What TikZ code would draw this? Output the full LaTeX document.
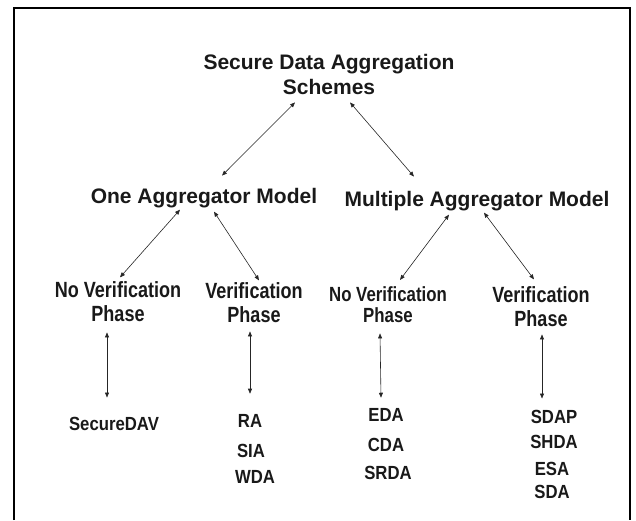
\documentclass[tikz,border=0pt]{standalone}
\usepackage{fontspec}
\setmainfont{Liberation Sans}
\newfontfamily\narrowsans[FakeStretch=0.82]{Liberation Sans}
\newfontfamily\leafsans[FakeStretch=0.88]{Liberation Sans}
\usetikzlibrary{arrows.meta}
\begin{document}
\begin{tikzpicture}[x=1pt, y=-1pt, line join=round, line cap=round, >={Triangle[length=5pt,width=4pt]},
	every node/.style={inner sep=0pt, anchor=base, align=center, text=black!90},
	head/.style={font=\fontsize{21}{25}\selectfont\bfseries},
	phase/.style={font=\narrowsans\fontsize{22}{23.5}\selectfont\bfseries},
	smallphase/.style={font=\narrowsans\fontsize{20.5}{21}\selectfont\bfseries},
	leaf/.style={font=\leafsans\fontsize{19}{22}\selectfont\bfseries},
	link/.style={<->, line width=0.6pt, black!85}]
	\useasboundingbox (0,0) rectangle (636,520);
	\draw[line width=2pt, line join=miter, line cap=butt] (14,520) -- (14,8) -- (630,8) -- (630,520);
	\node[head] (sdas) at (329,94) {Secure Data Aggregation\\Schemes};
	\node[head] (oam) at (204,203) {One Aggregator Model};
	\node[head] (mam) at (477,206) {Multiple Aggregator Model};
	\node[phase] (nv1) at (118,321) {No Verification\\Phase};
	\node[phase] (v1) at (254,322) {Verification\\Phase};
	\node[smallphase] (nv2) at (388,322) {No Verification\\Phase};
	\node[phase] (v2) at (541,326) {Verification\\Phase};
	\node[leaf] (dav) at (114,430) {SecureDAV};
	\node[leaf] (ra) at (250,427) {RA};
	\node[leaf] (sia) at (251,457) {SIA};
	\node[leaf] (wda) at (255,483) {WDA};
	\node[leaf] (eda) at (386,421) {EDA};
	\node[leaf] (cda) at (386,451) {CDA};
	\node[leaf] (srda) at (388,479) {SRDA};
	\node[leaf] (sdap) at (554,423) {SDAP};
	\node[leaf] (shda) at (554,448) {SHDA};
	\node[leaf] (esa) at (552,475) {ESA};
	\node[leaf] (sda) at (552,498) {SDA};
	\draw[link] ([shift={(-34,8)}]sdas.south) -- ([shift={(18,-12)}]oam.north);
	\draw[link] ([shift={(21,8)}]sdas.south) -- ([shift={(-63,-14)}]mam.north);
	\draw[link] ([shift={(-24,2)}]oam.south) -- ([shift={(2,-4)}]nv1.north);
	\draw[link] ([shift={(10,4)}]oam.south) -- ([shift={(5,-2)}]v1.north);
	\draw[link] ([shift={(-28,4)}]mam.south) -- ([shift={(12,-6)}]nv2.north);
	\draw[link] ([shift={(7,2)}]mam.south) -- ([shift={(-7,-7)}]v2.north);
	\draw[link] ([shift={(-11,11)}]nv1.south) -- ([shift={(-7,-19)}]dav.north);
	\draw[link] ([shift={(-4,9)}]v1.south) -- ([shift={(0,-20)}]ra.north);
	\draw[link] ([shift={(-8,11)}]nv2.south) -- ([shift={(-5,-10)}]eda.north);
	\draw[link] ([shift={(1,8)}]v2.south) -- ([shift={(-12,-11)}]sdap.north);
\end{tikzpicture}
\end{document}
